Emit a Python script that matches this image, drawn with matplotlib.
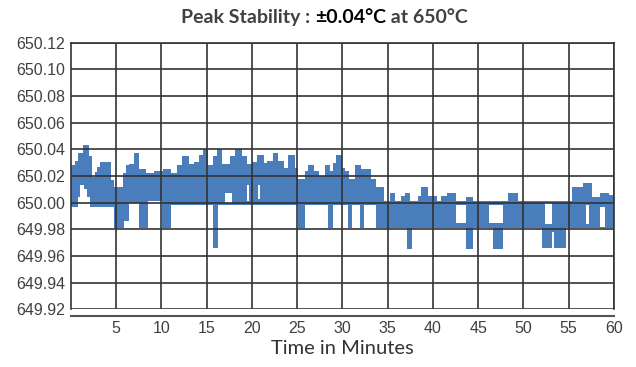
import matplotlib
matplotlib.use('Agg')
import matplotlib.pyplot as plt

# segment start times (minutes) with top / bottom of the trace in each segment
t_min = [0.0, 0.45, 0.8, 1.0, 1.35, 1.45, 1.8, 1.97, 2.1, 2.3, 2.6, 2.9, 3.2, 4.45,
         4.8, 5.75, 5.9, 6.1, 6.4, 7.0, 7.55, 8.3, 8.5, 9.2, 10.1, 10.2, 11.0, 11.7,
         12.3, 13.0, 13.6, 14.2, 14.6, 15.1, 15.7, 16.1, 16.3, 16.7, 17.6, 18.1, 18.9,
         19.4, 20.0, 20.6, 21.3, 21.7, 22.3, 22.9, 23.5, 24.0, 24.7, 25.1, 25.85, 26.2,
         26.9, 27.4, 28.1, 28.4, 28.6, 28.9, 29.0, 29.3, 29.9, 30.3, 30.6, 30.7, 31.1,
         31.4, 31.9, 32.0, 32.4, 33.1, 33.7, 34.6, 35.3, 35.8, 36.5, 36.9, 37.1, 37.5,
         37.7, 38.3, 38.7, 39.4, 40.4, 40.9, 41.5, 42.5, 43.7, 44.4, 46.6, 47.7, 48.3,
         49.4, 52.0, 53.2, 53.4, 54.7, 55.4, 56.6, 57.6, 58.5, 59.4, 60.0]
top_c = [650.028, 650.031, 650.037, 650.037, 650.0435, 650.0435, 650.0435, 650.035,
         650.035, 650.019, 650.023, 650.027, 650.0305, 650.017, 650.012, 650.022,
         650.022, 650.028, 650.029, 650.037, 650.025, 650.022, 650.022, 650.024,
         650.024, 650.025, 650.022, 650.028, 650.035, 650.029, 650.0305, 650.0355,
         650.040, 650.028, 650.035, 650.040, 650.040, 650.029, 650.035, 650.040,
         650.035, 650.029, 650.0305, 650.0355, 650.030, 650.031, 650.037, 650.031,
         650.026, 650.0355, 650.026, 650.018, 650.0235, 650.028, 650.0235, 650.020,
         650.028, 650.028, 650.0235, 650.0235, 650.030, 650.0355, 650.026, 650.0235,
         650.0235, 650.018, 650.018, 650.028, 650.028, 650.025, 650.025, 650.018,
         650.012, 650.001, 650.007, 650.001, 650.005, 650.007, 650.007, 650.001,
         650.001, 650.005, 650.012, 650.005, 650.001, 650.005, 650.007, 650.001,
         650.004, 650.001, 650.001, 650.001, 650.007, 650.001, 650.001, 650.001,
         650.001, 650.001, 650.0115, 650.015, 650.0045, 650.007, 650.006, 650.006]
bot_c = [649.997, 649.997, 650.004, 650.0135, 650.0135, 650.0105, 650.004, 650.004,
         649.997, 649.997, 649.997, 649.997, 649.997, 649.997, 649.981, 649.981,
         649.986, 649.986, 650.0, 650.0, 649.981, 649.981, 650.001, 650.001, 649.981,
         649.981, 649.998, 649.998, 649.998, 649.998, 649.998, 649.998, 649.998,
         649.998, 649.966, 649.966, 649.998, 649.998, 649.998, 649.998, 649.998,
         649.998, 649.998, 649.998, 649.998, 649.998, 649.998, 649.998, 649.998,
         649.998, 649.998, 649.981, 649.998, 649.998, 649.998, 649.998, 649.998,
         649.981, 649.981, 649.998, 649.998, 649.998, 649.998, 649.998, 649.981,
         649.981, 649.998, 649.998, 649.981, 649.981, 649.998, 649.998, 649.981,
         649.981, 649.981, 649.981, 649.981, 649.981, 649.965, 649.965, 649.981,
         649.981, 649.981, 649.981, 649.981, 649.981, 649.981, 649.981, 649.965,
         649.981, 649.965, 649.981, 649.981, 649.981, 649.966, 649.978, 649.966,
         649.981, 649.981, 649.981, 649.981, 649.981, 649.981, 649.981]

# holes inside the trace: start, end, low, high
gap_t0 = [17.0, 19.4, 20.7, 42.5, 46.2, 52.4, 56.9, 58.5]
gap_t1 = [17.8, 19.7, 20.9, 43.7, 47.7, 53.1, 57.2, 59.05]
gap_lo = [650.0, 650.001, 650.003, 649.985, 649.985, 649.984, 649.984, 649.9815]
gap_hi = [650.007, 650.0135, 650.0135, 649.9985, 649.9985, 649.9995, 649.998, 649.997]

y_ticks = [649.92, 649.94, 649.96, 649.98, 650.00, 650.02, 650.04, 650.06, 650.08, 650.10, 650.12]
x_ticks = [5, 10, 15, 20, 25, 30, 35, 40, 45, 50, 55, 60]

title_parts = ['Peak Stability : ', '±0.04°C', ' at 650°C']
title_cols = ['#404040', '#000000', '#404040']

blue = '#4a7dbb'
grid_c = '#333333'
txt_c = '#404040'

fig = plt.figure(figsize=(6.36, 3.67), dpi=100)
ax = fig.add_axes([0.1116, 0.1572, 0.8538, 0.7265])

ax.fill_between(t_min, bot_c, top_c, step='post', color=blue, lw=0, zorder=1)
for a, b, lo, hi in zip(gap_t0, gap_t1, gap_lo, gap_hi):
    ax.fill_between([a, b], [lo, lo], [hi, hi], color='white', lw=0, zorder=1.1)

ax.set_xlim(0, 60)
ax.set_ylim(649.92, 650.12)
ax.set_xticks(x_ticks)
ax.set_yticks(y_ticks)
ax.set_yticklabels(['%.2f' % v for v in y_ticks])
ax.set_axisbelow(False)
ax.grid(True, color=grid_c, lw=1.2)

for s in ['left', 'top', 'right']:
    ax.spines[s].set_color(grid_c)
    ax.spines[s].set_linewidth(1.2)
ax.spines['bottom'].set_position(('outward', 4.5))
ax.spines['bottom'].set_color('#555555')
ax.spines['bottom'].set_linewidth(1.5)

ax.tick_params(length=0, labelsize=11.5, labelcolor=txt_c, pad=4)
for lab in ax.get_xticklabels() + ax.get_yticklabels():
    lab.set_fontfamily('Liberation Sans')

ax.set_xlabel('Time in Minutes', fontsize=14.5, family='Lato', color='#333333', labelpad=3)

# title in three colour pieces, centred as a whole
fig.canvas.draw()
r = fig.canvas.get_renderer()
pieces = []
for s, c in zip(title_parts, title_cols):
    t = fig.text(0, 0.953, s, ha='left', va='center', fontsize=14, fontweight='bold',
                 family='Lato', color=c)
    pieces.append(t)
widths = [p.get_window_extent(r).width / fig.bbox.width for p in pieces]
x0 = 324.5 / 636 - sum(widths) / 2
for p, w in zip(pieces, widths):
    p.set_x(x0)
    x0 += w

fig.savefig('out.png', dpi=100)
